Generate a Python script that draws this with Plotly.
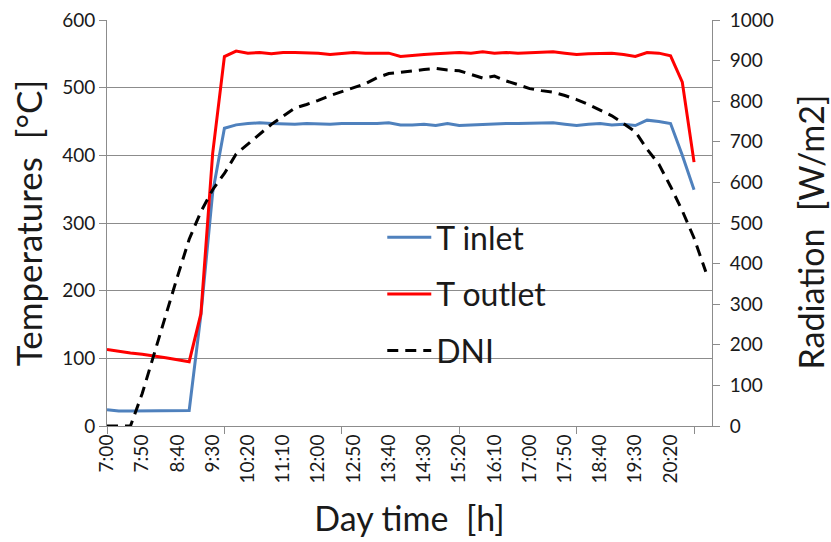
import plotly.graph_objects as go

# Samples logged every 1000 s starting at 7:00 (sample index k)
STEP_MIN = 1000 / 60
START_MIN = 7 * 60

t_inlet = [24, 22, 22, 22, 22, 22, 22, 23, 165, 345,
           440, 445, 447, 448, 447, 446, 446, 447, 446, 446,
           447, 447, 446, 447, 448, 445, 445, 446, 444, 447,
           444, 445, 446, 447, 447, 447, 447, 448, 448, 446,
           444, 446, 447, 445, 446, 444, 452, 450, 447, 400,
           349]

t_outlet = [113, 110, 108, 106, 104, 101, 98, 95, 166, 403,
            546, 554, 551, 552, 550, 552, 552, 552, 551, 549,
            551, 552, 551, 551, 551, 546, 548, 549, 550, 551,
            552, 551, 553, 551, 552, 551, 552, 553, 553, 551,
            549, 550, 551, 551, 549, 546, 552, 551, 547, 508,
            390]

dni = [0, 0, 0, 80, 178, 272, 368, 460, 528, 582,
       622, 670, 694, 719, 743, 763, 783, 792, 802, 814,
       824, 833, 843, 858, 868, 871, 875, 878, 881, 877,
       875, 866, 857, 862, 850, 841, 831, 826, 822, 814,
       804, 792, 778, 764, 745, 725, 682, 645, 590, 530,
       463, 380]

time_labels = ["7:00", "7:50", "8:40", "9:30", "10:20", "11:10", "12:00",
               "12:50", "13:40", "14:30", "15:20", "16:10", "17:00",
               "17:50", "18:40", "19:30", "20:20"]


def to_minutes(label):
    h, m = label.split(":")
    return int(h) * 60 + int(m)


x_temp = [START_MIN + k * STEP_MIN for k in range(len(t_inlet))]
x_dni = [START_MIN + k * STEP_MIN for k in range(len(dni))]
label_pos = [to_minutes(s) for s in time_labels]
tick_marks = [START_MIN + k * STEP_MIN for k in range(0, 51, 10)]

FONT = "Lato"
GRID = "#8c8c8c"
TXT = "#1a1a1a"

fig = go.Figure()
fig.add_trace(go.Scatter(x=x_temp, y=t_inlet, name="T inlet", mode="lines",
                         line=dict(color="#4f81bd", width=3),
                         legendgroup="a"))
fig.add_trace(go.Scatter(x=x_temp, y=t_outlet, name="T outlet", mode="lines",
                         line=dict(color="#ff0000", width=3),
                         legendgroup="b"))
fig.add_trace(go.Scatter(x=x_dni, y=dni, name="DNI", mode="lines",
                         line=dict(color="black", width=3, dash="11px,7px"),
                         yaxis="y2", legendgroup="c"))

fig.update_layout(
    width=831, height=542,
    margin=dict(l=107, r=119, t=20, b=116, autoexpand=False),
    paper_bgcolor="white", plot_bgcolor="white",
    font=dict(family=FONT, color=TXT),
    showlegend=True,
    legend=dict(x=0.455, y=0.532, xanchor="left", yanchor="top",
                font=dict(size=32, family=FONT, color=TXT),
                bgcolor="rgba(0,0,0,0)", tracegroupgap=12,
                itemwidth=44),
    xaxis=dict(
        range=[START_MIN, START_MIN + 51.53 * STEP_MIN],
        tickmode="array", tickvals=label_pos, ticktext=time_labels,
        tickangle=-90, ticks="", tickfont=dict(size=19, family=FONT, color=TXT),
        showgrid=False, zeroline=False, automargin=False,
        showline=True, linecolor=GRID, linewidth=1,
        minor=dict(tickmode="array", tickvals=tick_marks, ticks="outside",
                   ticklen=7, tickcolor=GRID, tickwidth=1, showgrid=False),
        title=dict(text="Day time  [h]", font=dict(size=34, family=FONT, color=TXT),
                   standoff=24),
    ),
    yaxis=dict(
        range=[0, 600], dtick=100, tick0=0,
        ticks="outside", ticklen=7, tickcolor=GRID,
        tickfont=dict(size=19, family=FONT, color=TXT),
        showgrid=True, gridcolor=GRID, gridwidth=1, zeroline=False,
        showline=True, linecolor=GRID, linewidth=1, automargin=False,
        title=dict(text="Temperatures  [°C]", font=dict(size=35, family=FONT, color=TXT),
                   standoff=8),
    ),
    yaxis2=dict(
        range=[0, 1000], dtick=100, tick0=0, overlaying="y", side="right",
        ticks="outside", ticklen=7, tickcolor=GRID, ticklabelstandoff=6,
        tickfont=dict(size=19, family=FONT, color=TXT),
        showgrid=False, zeroline=False, automargin=False,
        showline=True, linecolor=GRID, linewidth=1,
    ),
    annotations=[dict(
        text="Radiation  [W/m2]", textangle=-90,
        xref="paper", yref="paper", x=1.163, y=0.478,
        xanchor="center", yanchor="middle", showarrow=False,
        font=dict(size=34, family=FONT, color=TXT),
    )],
)

fig.write_html("out.html")
